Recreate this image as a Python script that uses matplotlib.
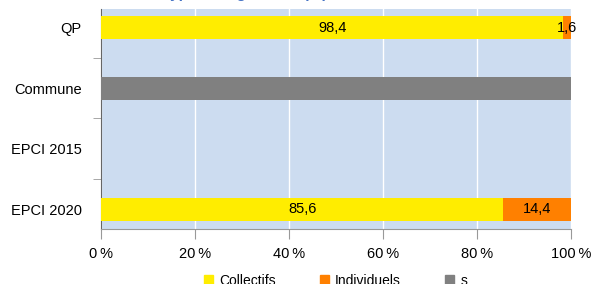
import numpy as np
import matplotlib
matplotlib.use("Agg")
import matplotlib.pyplot as plt
from matplotlib.patches import Patch

plt.rcParams["font.family"] = ["Liberation Sans", "DejaVu Sans"]

# Donnees
categories = ["QP", "Commune", "EPCI 2015", "EPCI 2020"]
collectifs = [98.4, 0, 0, 85.6]
individuels = [1.6, 0, 0, 14.4]
secret = [0, 100, 0, 0]
series_names = ["Collectifs", "Individuels", "s"]
xticks = [0, 20, 40, 60, 80, 100]

colors = ["#FFED00", "#FF8000", "#808080"]
fs = 10.5

fig = plt.figure(figsize=(5.93, 2.84), dpi=100)
ax = fig.add_axes([101 / 593, 1 - 229 / 284, 470 / 593, 220 / 284])
ax.set_facecolor("#CCDCF0")

y = np.arange(len(categories))
h = 0.38
left = np.zeros(len(categories))
for vals, col in zip([collectifs, individuels, secret], colors):
    vals = np.array(vals, dtype=float)
    ax.barh(y, vals, left=left, height=h, color=col, zorder=3)
    left += vals

# etiquettes de valeur
for i in range(len(categories)):
    if collectifs[i] > 0:
        ax.text(collectifs[i] / 2, y[i], f"{collectifs[i]:.1f}".replace(".", ","),
                ha="center", va="center", fontsize=fs, zorder=4)
    if individuels[i] > 0:
        ax.text(collectifs[i] + individuels[i] / 2, y[i],
                f"{individuels[i]:.1f}".replace(".", ","),
                ha="center", va="center", fontsize=fs, zorder=4)

ax.set_xlim(0, 100)
ax.set_ylim(3.33, -0.31)
ax.set_xticks(xticks)
ax.set_xticklabels([f"{t}\u2009%" for t in xticks], fontsize=fs)
ax.xaxis.grid(True, color="white", linewidth=1, zorder=1)
ax.set_yticks(y)
ax.set_yticklabels(categories, fontsize=fs)
ax.set_yticks([0.5, 1.5, 2.5], minor=True)
ax.tick_params(axis="y", which="major", length=0, pad=14)
ax.tick_params(axis="y", which="minor", length=6, color="#999999")
ax.tick_params(axis="x", length=7, color="#999999", pad=6)
for s in ["top", "right"]:
    ax.spines[s].set_visible(False)
ax.spines["left"].set_color("#666666")
ax.spines["bottom"].set_color("#999999")

# titre (coupe en haut comme dans la reference)
fig.text(0.273, 1.0 + 1.7 / 284, "Type de logements (%)", color="#4472C4",
         fontsize=11, fontweight="bold", ha="left", va="baseline")

handles = [Patch(color=c, label=n) for c, n in zip(colors, series_names)]
fig.legend(handles=handles, loc="upper left", bbox_to_anchor=(204 / 593, 10 / 284),
           ncol=3, frameon=False, fontsize=10, handlelength=0.65, handleheight=0.65,
           columnspacing=3.2, handletextpad=0.43, borderaxespad=0, borderpad=0)

fig.savefig("out.png", dpi=100)
